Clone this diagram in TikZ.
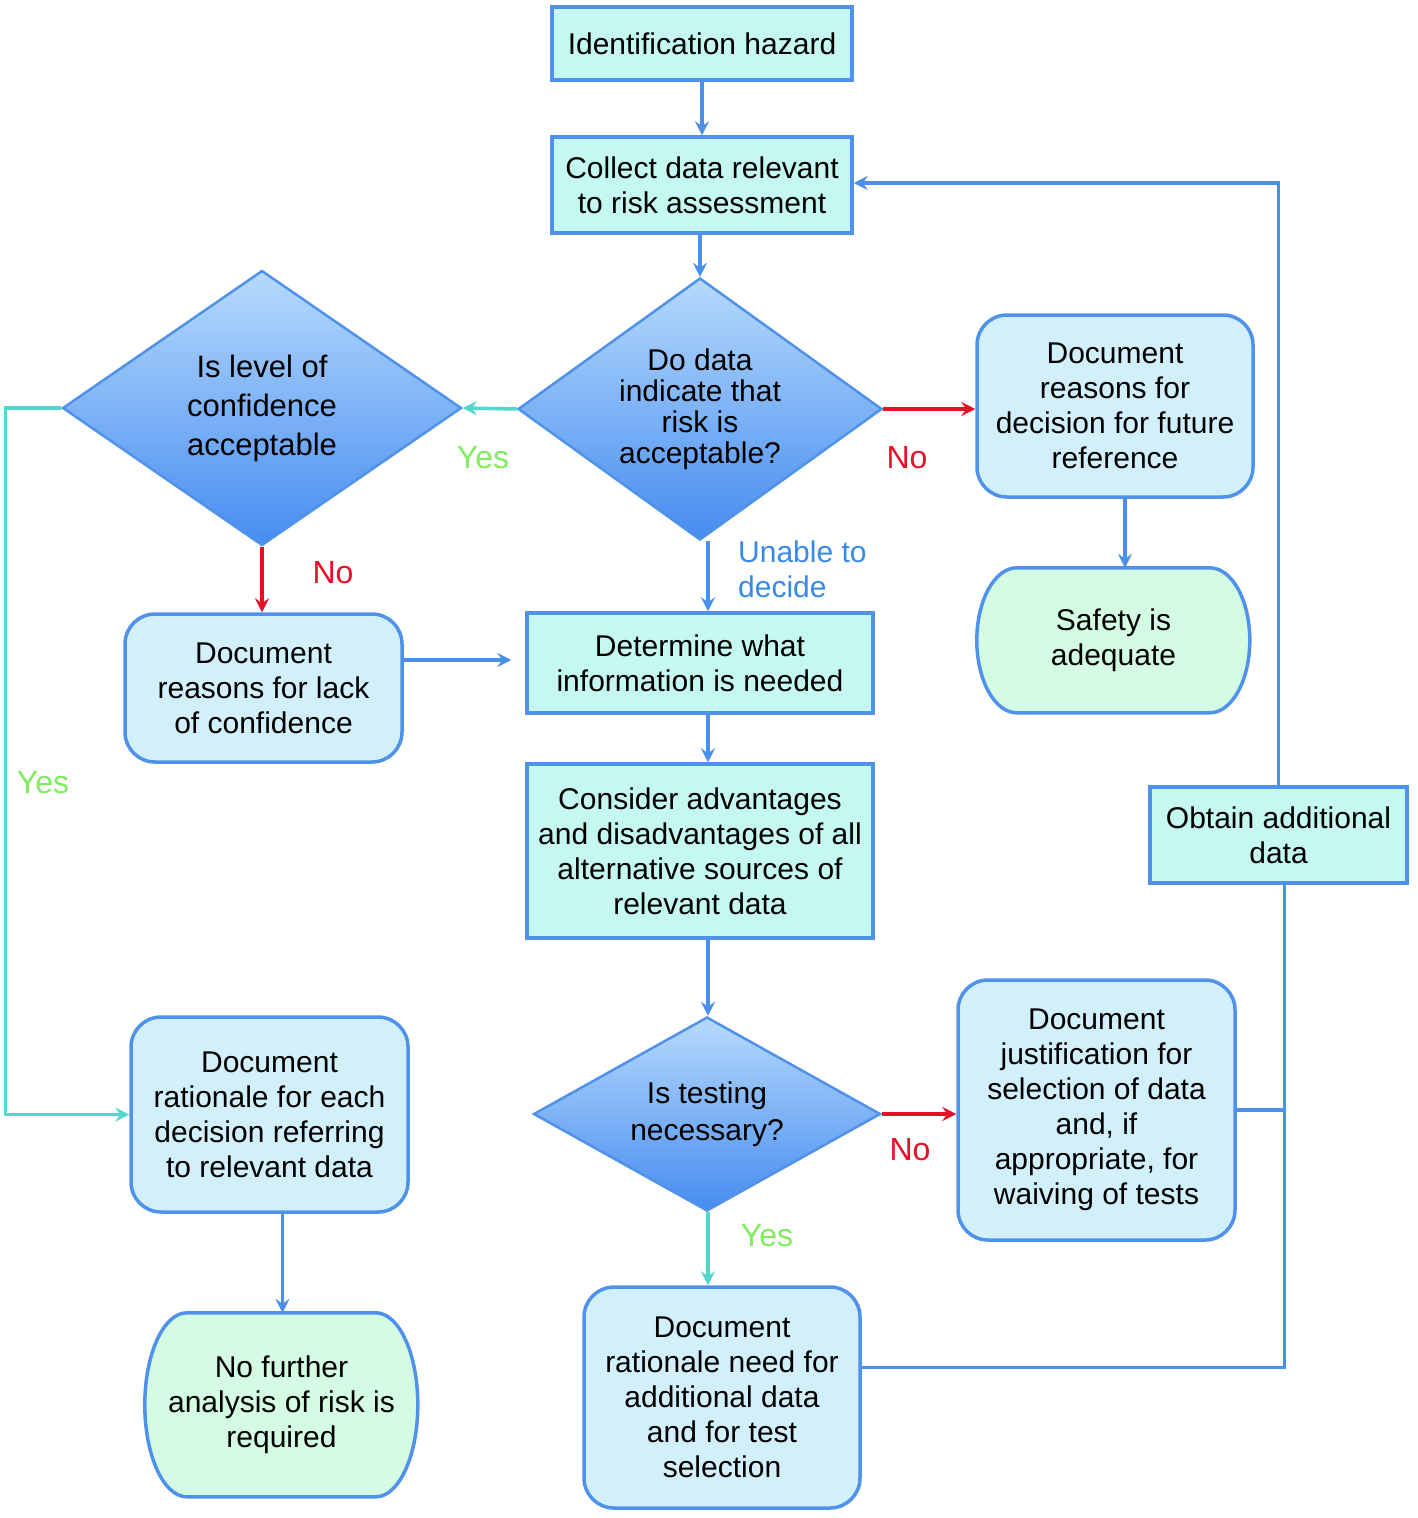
\documentclass[tikz,border=0pt]{standalone}
\usepackage{fontspec}
\setmainfont{Liberation Sans}
\usetikzlibrary{shapes.geometric,arrows.meta,backgrounds}
\definecolor{lineblue}{RGB}{74,144,232}
\definecolor{edgeblue}{RGB}{80,146,234}
\definecolor{tealc}{RGB}{84,214,204}
\definecolor{redc}{RGB}{232,16,40}
\definecolor{greenlab}{RGB}{128,236,96}
\definecolor{bluelab}{RGB}{56,138,232}
\definecolor{aquafill}{RGB}{196,248,240}
\definecolor{docfill}{RGB}{210,240,252}
\definecolor{termfill}{RGB}{212,252,226}
\definecolor{diatop}{RGB}{182,218,252}
\definecolor{diabot}{RGB}{70,140,240}
\begin{document}
\begin{tikzpicture}[x=1pt,y=-1pt,
  txt/.style={align=center, inner sep=0pt, font=\fontsize{30}{35}\selectfont},
  sq/.style={txt, draw=edgeblue, line width=3.5pt, fill=aquafill},
  rnd/.style={txt, draw=edgeblue, line width=3.5pt, fill=docfill, rounded corners=30pt},
  term/.style={txt},
  termshape/.style={fill=termfill, draw=edgeblue, line width=3.5pt, line join=round},
  dia/.style={diamond, draw=edgeblue, line width=2.5pt, top color=diatop, bottom color=diabot, align=center, inner sep=0pt},
  tip/.style={-{Stealth[length=14pt,width=14pt,inset=5pt]}},
  arr/.style={draw=lineblue, line width=3.5pt, tip},
  tarr/.style={draw=tealc, line width=3.5pt, tip},
  rarr/.style={draw=redc, line width=3.5pt, tip},
  conn/.style={draw=lineblue, line width=3.5pt},
  lab/.style={inner sep=0pt, font=\fontsize{32}{36}\selectfont}
]
\useasboundingbox (0,0) rectangle (1417,1518);
\begin{scope}[on background layer]
\fill[white] (0,0) rectangle (1417,1518);
\end{scope}

% nodes
\node[sq, minimum width=300pt, minimum height=73pt] (haz) at (702,43.5) {Identification hazard};
\node[sq, minimum width=300pt, minimum height=96pt] (col) at (702,185) {Collect data relevant\\to risk assessment};
\node[dia, aspect=1.39, font=\fontsize{30}{31}\selectfont, minimum width=364pt, minimum height=262pt] (dd) at (700,409) {Do data\\indicate that\\risk is\\acceptable?};
\node[dia, aspect=1.45, font=\fontsize{31}{39}\selectfont, minimum width=399pt, minimum height=275pt] (conf) at (262,408) {Is level of\\confidence\\acceptable};
\node[rnd, minimum width=276pt, minimum height=182pt] (drf) at (1115,406) {Document\\reasons for\\decision for future\\reference};
\node[term, minimum width=273pt, minimum height=145pt] (safe) at (1113.5,640.5) {Safety is\\adequate};
\node[rnd, minimum width=277pt, minimum height=148pt] (dlc) at (263.5,688) {Document\\reasons for lack\\of confidence};
\node[sq, minimum width=346pt, minimum height=100pt] (det) at (700,663) {Determine what\\information is needed};
\node[sq, minimum width=346pt, minimum height=174pt] (cons) at (700,851) {Consider advantages\\and disadvantages of all\\alternative sources of\\relevant data};
\node[sq, minimum width=257pt, minimum height=96pt] (obt) at (1278.5,835) {Obtain additional\\data};
\node[dia, aspect=1.79, font=\fontsize{30}{37}\selectfont, minimum width=347pt, minimum height=194pt] (test) at (707,1114) {Is testing\\necessary?};
\node[rnd, minimum width=277pt, minimum height=260pt] (just) at (1096.5,1110) {Document\\justification for\\selection of data\\and, if\\appropriate, for\\waiving of tests};
\node[rnd, minimum width=277pt, minimum height=195pt] (rat) at (269.5,1114.5) {Document\\rationale for each\\decision referring\\to relevant data};
\node[term, minimum width=273pt, minimum height=184pt] (nof) at (281.5,1405) {No further\\analysis of risk is\\required};
\node[rnd, minimum width=276pt, minimum height=221pt] (need) at (722,1397.5) {Document\\rationale need for\\additional data\\and for test\\selection};

% terminal outlines (elliptic sides)
\begin{scope}[on background layer]
\filldraw[termshape]
  ([xshift=40pt]safe.north west) -- ++(193,0)
  arc[start angle=90, end angle=-90, x radius=40pt, y radius=72.5pt]
  -- ++(-193,0)
  arc[start angle=270, end angle=90, x radius=40pt, y radius=72.5pt] -- cycle;
\filldraw[termshape]
  ([xshift=42pt]nof.north west) -- ++(189,0)
  arc[start angle=90, end angle=-90, x radius=42pt, y radius=92pt]
  -- ++(-189,0)
  arc[start angle=270, end angle=90, x radius=42pt, y radius=92pt] -- cycle;
\end{scope}

\coordinate (obtb) at ([xshift=6pt]obt.south);

% connectors
\draw[arr] (haz) -- (col);
\draw[arr] (dd.north |- col.south) -- (dd.north);
\draw[tarr] (dd.west) -- (conf.east);
\draw[rarr] (dd.east) -- (dd.east -| drf.west);
\draw[arr] ([xshift=8pt]dd.south) -- ([xshift=8pt]det.north);
\draw[rarr] (conf.south) -- (conf.south |- dlc.north);
\draw[tarr] (conf.west) -- ++(-56,0) |- (rat.west);
\draw[arr, shorten >=14pt] ([yshift=28pt]dlc.east) -- ([yshift=28pt]dlc.east -| det.west);
\draw[arr] ([xshift=10pt]drf.south) -- ([xshift=10pt]drf.south |- safe.north);
\draw[arr] ([xshift=8pt]det.south) -- ([xshift=8pt]cons.north);
\draw[arr] ([xshift=8pt]cons.south) -- ([xshift=8pt]cons.south |- test.north);
\draw[rarr] (test.east) -- (test.east -| just.west);
\draw[tarr] ([xshift=1pt]test.south) -- ([xshift=1pt]test.south |- need.north);
\draw[arr] ([xshift=13pt]rat.south) -- ([xshift=13pt]rat.south |- nof.north);
\draw[conn] (just.east) -- (just.east -| obtb);
\draw[conn] ([yshift=30pt]need.east) -| (obtb);
\draw[arr] (obt.north) |- ([yshift=2pt]col.east);

% labels
\node[lab, text=greenlab] (l1) at (483,458) {Yes};
\node[lab, text=redc] (l2) at (907,458) {No};
\node[lab, text=redc] (l3) at (333,573) {No};
\node[lab, text=greenlab] (l4) at (43,783) {Yes};
\node[lab, text=redc] (l5) at (910,1150) {No};
\node[lab, text=greenlab] (l6) at (767,1236) {Yes};
\node[inner sep=0pt, text=bluelab, align=left, anchor=west, font=\fontsize{30}{35}\selectfont] (l7) at (738,569) {Unable to\\decide};
\end{tikzpicture}
\end{document}
